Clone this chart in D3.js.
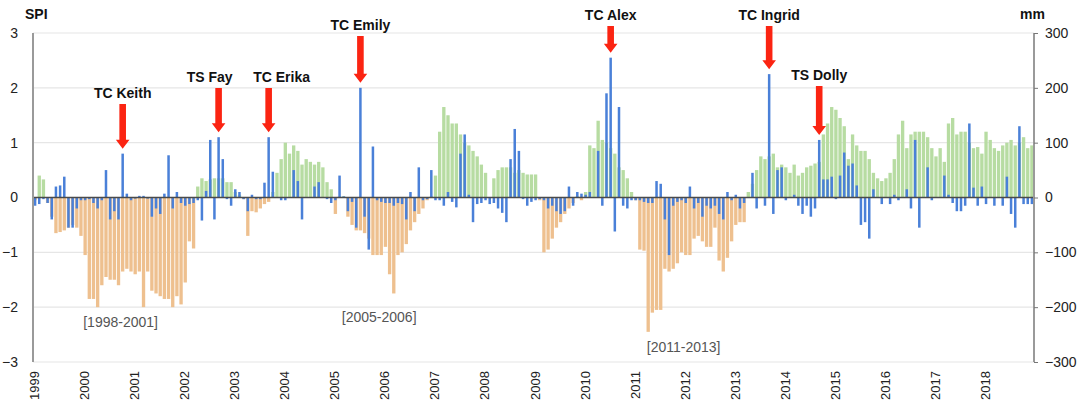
<!DOCTYPE html>
<html>
<head>
<meta charset="utf-8">
<script src="https://cdn.jsdelivr.net/npm/d3@7/dist/d3.min.js"></script>
<style>
  html, body { margin: 0; padding: 0; background: #fff; }
  svg { display: block; font-family: "Liberation Sans", Arial, Helvetica, sans-serif; }
</style>
</head>
<body>
<svg id="chart" width="1084" height="414"></svg>
<script>
// ---------------- DATA ----------------
const years = [1999,2000,2001,2002,2003,2004,2005,2006,2007,2008,2009,2010,2011,2012,2013,2014,2015,2016,2017,2018];

// SPI (left axis), monthly, Jan..Dec per year
const spi1999 = [-0.05, 0.40, 0.33, -0.10, -0.35, -0.65, -0.63, -0.60, -0.55, -0.50, -0.55, -0.70];
const spi2000 = [-1.05, -1.85, -1.85, -2.00, -1.60, -1.45, -1.50, -1.50, -1.60, -1.35, -1.30, -1.35];
const spi2001 = [-1.40, -1.35, -2.00, -1.35, -1.70, -1.75, -1.80, -1.85, -1.85, -2.00, -1.80, -1.95];
const spi2002 = [-1.55, -0.80, -0.93, 0.20, 0.35, 0.30, 0.33, 0.35, 0.35, 0.35, 0.28, 0.28];
const spi2003 = [0.10, 0.05, -0.03, -0.70, -0.25, -0.27, -0.20, -0.12, -0.08, 0.10, 0.45, 0.70];
const spi2004 = [1.00, 0.80, 0.95, 0.85, 0.60, 0.70, 0.65, 0.60, 0.65, 0.55, 0.28, 0.15];
const spi2005 = [-0.30, 0.02, 0.02, -0.35, -0.50, -0.60, -0.60, -0.65, -0.75, -1.05, -1.05, -1.05];
const spi2006 = [-0.90, -1.40, -1.75, -1.05, -1.00, -0.85, -0.60, -0.45, -0.30, -0.20, -0.05, 0.02];
const spi2007 = [0.40, 1.20, 1.65, 1.50, 1.35, 1.35, 1.15, 1.00, 0.95, 0.85, 0.75, 0.60];
const spi2008 = [0.45, 0.00, 0.35, 0.50, 0.55, 0.55, 0.55, 0.45, 0.50, 0.45, 0.42, 0.42];
const spi2009 = [0.42, -0.05, -1.00, -0.95, -0.75, -0.55, -0.45, -0.30, -0.20, -0.10, 0.02, -0.05];
const spi2010 = [0.10, 0.95, 0.90, 1.40, 1.05, 1.00, 0.90, 0.80, 0.55, 0.50, 0.35, 0.10];
const spi2011 = [-0.05, -0.95, -0.97, -2.45, -2.10, -2.05, -2.05, -1.30, -1.35, -1.30, -1.20, -1.00];
const spi2012 = [-1.05, -1.05, -0.75, -0.70, -0.80, -0.90, -0.90, -0.55, -1.15, -1.35, -1.10, -0.80];
const spi2013 = [-0.50, -0.45, -0.45, 0.10, 0.25, 0.50, 0.75, 0.70, 0.75, 0.80, 0.55, 0.60];
const spi2014 = [0.55, 0.45, 0.60, 0.40, 0.45, 0.55, 0.58, 0.62, 0.65, 1.15, 1.35, 1.65];
const spi2015 = [1.60, 1.45, 1.30, 0.70, 1.15, 0.95, 0.85, 0.85, 0.70, 0.45, 0.35, 0.30];
const spi2016 = [0.35, 0.45, 0.70, 1.15, 1.40, 0.90, 1.15, 1.20, 1.20, 1.20, 1.10, 0.90];
const spi2017 = [0.75, 0.90, 0.65, 1.35, 1.45, 1.15, 1.20, 1.20, 1.00, 0.90, 0.92, 0.80];
const spi2018 = [1.20, 1.05, 0.90, 0.85, 0.95, 1.00, 1.05, 0.95, 1.00, 1.10, 0.90, 0.95];

// Precipitation anomaly (mm, right axis), monthly
const mm1999 = [-15, -12, -3, -10, -40, 20, 22, 38, -55, -55, -20, -5];
const mm2000 = [-5, -3, -10, -20, -5, 50, -40, -25, -40, 80, 7, -5];
const mm2001 = [-2, 3, 3, -2, -35, -20, -30, 7, 77, -20, 10, -10];
const mm2002 = [-15, -12, -10, -5, -42, 12, 105, -40, 110, 70, -3, -15];
const mm2003 = [15, 10, -3, -25, 5, -3, -3, 27, 110, 47, 0, -5];
const mm2004 = [-5, 0, 50, 30, -40, 0, 0, 20, 28, 0, -3, -10];
const mm2005 = [-5, 40, 2, -25, -8, -55, 200, -35, -95, 93, -5, -8];
const mm2006 = [-10, -10, -15, -10, -12, -40, 10, -25, 55, -5, -3, 50];
const mm2007 = [-5, -5, -15, 10, -8, -18, 80, 115, 5, -45, -12, -10];
const mm2008 = [-5, -12, -10, -20, -28, -45, 70, 125, 85, -3, -15, -8];
const mm2009 = [-5, -3, -5, -20, -15, -25, -30, -25, 20, -15, 10, 7];
const mm2010 = [5, 10, 0, 85, -15, 190, 255, -62, 165, -15, -20, -5];
const mm2011 = [-5, -5, -8, -10, -10, 30, 25, -40, -105, -15, -8, -5];
const mm2012 = [-10, 20, -20, -10, -35, -15, -20, -15, -30, -40, 10, -5];
const mm2013 = [5, -20, -10, 0, 45, -20, 0, -15, 225, -30, 50, 55];
const mm2014 = [-5, 0, 5, -15, -30, -15, -35, -20, 105, 33, 33, 38];
const mm2015 = [-3, 40, 82, 58, 62, 22, -50, -45, -75, 15, 0, -12];
const mm2016 = [0, -12, 5, -5, 0, 15, -20, 105, -55, 0, 55, -5];
const mm2017 = [0, 0, 40, 5, -10, -25, -25, -15, 135, 18, -15, 20];
const mm2018 = [-12, 0, -15, 0, -15, 38, -30, -55, 130, -12, -12, -12];

const spiTicks = [-3, -2, -1, 0, 1, 2, 3];
const mmTicks = [-300, -200, -100, 0, 100, 200, 300];

// Storm events: name, year, month (1-12)
const stormNames = ["TC Keith", "TS Fay", "TC Erika", "TC Emily", "TC Alex", "TC Ingrid", "TS Dolly"];
const stormYears = [2000, 2002, 2003, 2005, 2010, 2013, 2014];
const stormMonths = [10, 9, 9, 7, 7, 9, 9];

// Drought period labels
const periodLabels = ["[1998-2001]", "[2005-2006]", "[2011-2013]"];
const periodYears = [2000, 2005, 2012];
const periodMonths = [10, 12, 1];
const periodSpi = [-2.0, -1.9, -2.45];

// ---------------- BUILD ----------------
const spiAll = [].concat(spi1999, spi2000, spi2001, spi2002, spi2003, spi2004, spi2005, spi2006, spi2007, spi2008,
                         spi2009, spi2010, spi2011, spi2012, spi2013, spi2014, spi2015, spi2016, spi2017, spi2018);
const mmAll = [].concat(mm1999, mm2000, mm2001, mm2002, mm2003, mm2004, mm2005, mm2006, mm2007, mm2008,
                        mm2009, mm2010, mm2011, mm2012, mm2013, mm2014, mm2015, mm2016, mm2017, mm2018);
const months = spiAll.map((v, i) => ({ i, spi: v, mm: mmAll[i] }));
const monthIndex = (y, m) => (y - years[0]) * 12 + (m - 1);

const L = 33, R = 1034, T = 33, B = 362;

const svg = d3.select("#chart");
const x = d3.scaleBand().domain(d3.range(months.length)).range([L, R]).paddingInner(0).paddingOuter(0);
const y = d3.scaleLinear().domain([-3, 3]).range([B, T]);
const yR = d3.scaleLinear().domain([-300, 300]).range([B, T]);
const bw = x.bandwidth();

// grid
svg.append("g").selectAll("line").data(spiTicks).join("line")
  .attr("x1", L).attr("x2", R)
  .attr("y1", d => y(d)).attr("y2", d => y(d))
  .attr("stroke", "#e6e6e6").attr("stroke-width", 1.2);

// SPI bars
svg.append("g").selectAll("rect").data(months).join("rect")
  .attr("x", d => x(d.i) + bw * 0.1)
  .attr("width", bw * 0.8)
  .attr("y", d => y(Math.max(0, d.spi)))
  .attr("height", d => Math.abs(y(d.spi) - y(0)))
  .attr("fill", d => d.spi >= 0 ? "#b7dca2" : "#eec08f");

// precipitation bars
svg.append("g").selectAll("rect").data(months).join("rect")
  .attr("x", d => x(d.i) + bw * 0.2)
  .attr("width", bw * 0.6)
  .attr("y", d => yR(Math.max(0, d.mm)))
  .attr("height", d => Math.abs(yR(d.mm) - yR(0)))
  .attr("fill", "#4a80d8");

// zero line
svg.append("line").attr("x1", L).attr("x2", R).attr("y1", y(0)).attr("y2", y(0))
  .attr("stroke", "#4a4a4a").attr("stroke-width", 1.3);

// left axis
svg.append("line").attr("x1", L).attr("x2", L).attr("y1", T).attr("y2", B)
  .attr("stroke", "#9a9a9a").attr("stroke-width", 2);
const leftAxis = svg.append("g").attr("transform", `translate(${L},0)`)
  .call(d3.axisLeft(y).tickValues(spiTicks).tickSize(0).tickPadding(15).tickFormat(d3.format("d")));
leftAxis.select(".domain").remove();
leftAxis.selectAll("text").attr("font-size", 14).attr("fill", "#222")
  .attr("font-family", "Liberation Sans, Arial, sans-serif");

// right axis
svg.append("line").attr("x1", R).attr("x2", R).attr("y1", T).attr("y2", B)
  .attr("stroke", "#9a9a9a").attr("stroke-width", 2);
const rightAxis = svg.append("g").attr("transform", `translate(${R},0)`)
  .call(d3.axisRight(yR).tickValues(mmTicks).tickSize(4).tickPadding(7).tickFormat(d3.format("d")));
rightAxis.select(".domain").remove();
rightAxis.selectAll("line").attr("stroke", "#777");
rightAxis.selectAll("text").attr("font-size", 14).attr("fill", "#222")
  .attr("font-family", "Liberation Sans, Arial, sans-serif");

// axis titles
svg.append("text").attr("x", 25).attr("y", 19).text("SPI")
  .attr("font-size", 14).attr("font-weight", "bold").attr("fill", "#111");
svg.append("text").attr("x", 1020).attr("y", 19).text("mm")
  .attr("font-size", 14).attr("font-weight", "bold").attr("fill", "#111");

// year labels
svg.append("g").selectAll("text").data(years).join("text")
  .attr("transform", d => `translate(${x(monthIndex(d, 1)) + 6},371) rotate(-90)`)
  .attr("text-anchor", "end")
  .attr("font-size", 13).attr("fill", "#222")
  .text(d => d);

// storm arrows and labels
const labelBaseline = { "TC Keith": 98, "TS Fay": 82, "TC Erika": 82, "TC Emily": 30, "TC Alex": 20, "TC Ingrid": 20, "TS Dolly": 80 };
const labelShift = { "TC Keith": 0, "TS Fay": -9, "TC Erika": 13, "TC Emily": 0, "TC Alex": 0, "TC Ingrid": 0, "TS Dolly": 0 };
const storms = stormNames.map((n, k) => {
  const i = monthIndex(stormYears[k], stormMonths[k]);
  return { name: n, i, mm: mmAll[i] };
});
const ag = svg.append("g");
storms.forEach(s => {
  const cx = x(s.i) + bw / 2;
  const top = labelBaseline[s.name] + 6;
  const tip = yR(s.mm) - 5;
  const headLen = 9, shaftHalf = 3.3, headHalf = 6.8;
  const p = d3.path();
  p.moveTo(cx - shaftHalf, top);
  p.lineTo(cx + shaftHalf, top);
  p.lineTo(cx + shaftHalf, tip - headLen);
  p.lineTo(cx + headHalf, tip - headLen);
  p.lineTo(cx, tip);
  p.lineTo(cx - headHalf, tip - headLen);
  p.lineTo(cx - shaftHalf, tip - headLen);
  p.closePath();
  ag.append("path").attr("d", p.toString()).attr("fill", "#fb2412");
  ag.append("text").attr("x", cx + labelShift[s.name]).attr("y", labelBaseline[s.name])
    .attr("text-anchor", "middle").attr("font-size", 14).attr("font-weight", "bold").attr("fill", "#111")
    .text(s.name);
});

// drought period labels
svg.append("g").selectAll("text").data(periodLabels).join("text")
  .attr("x", (d, k) => x(monthIndex(periodYears[k], periodMonths[k])))
  .attr("y", (d, k) => y(periodSpi[k]) + 20)
  .attr("text-anchor", "middle").attr("font-size", 14).attr("fill", "#555")
  .text(d => d);
</script>
</body>
</html>
